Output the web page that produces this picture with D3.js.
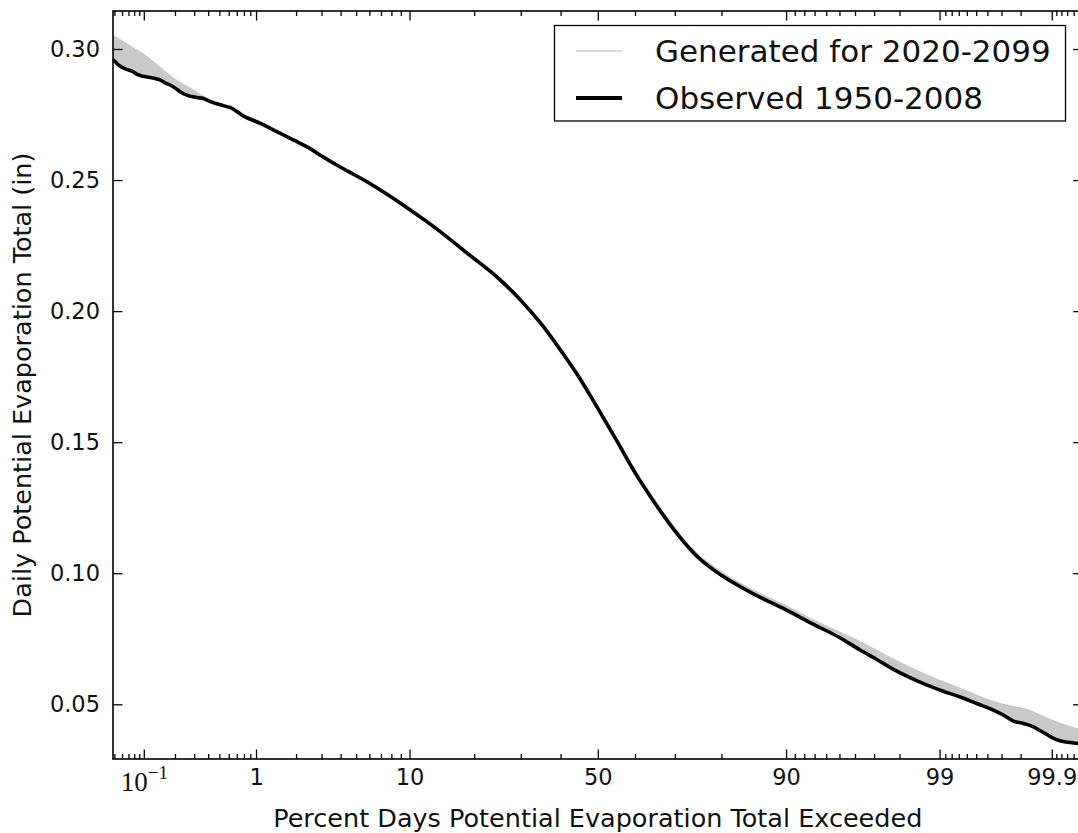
<!DOCTYPE html>
<html>
<head>
<meta charset="utf-8">
<script src="https://cdn.jsdelivr.net/npm/d3@7"></script>
<style>
  html, body { margin: 0; padding: 0; background: #fff; }
  svg { display: block; }
</style>
</head>
<body>
<svg id="chart" width="1078" height="833"></svg>
<script>
// Observed daily PET exceedance curve, 1950-2008 (percent of days exceeded, inches)
const observedPct = [0.0483, 0.0528, 0.0571, 0.0671, 0.0783, 0.0848, 0.0988, 0.124, 0.144, 0.161,
  0.186, 0.207, 0.231, 0.265, 0.317, 0.362, 0.414, 0.474, 0.540, 0.614, 0.698, 0.791, 1.073, 1.44,
  1.91, 2.50, 3, 4, 6, 9, 13, 19, 25, 30, 35, 40, 45, 50, 55, 60, 65, 70, 75, 80, 85, 90, 93, 95,
  96.29, 97.12, 97.79, 98.32, 98.74, 99.066, 99.317, 99.505, 99.645, 99.711, 99.766, 99.812,
  99.849, 99.874, 99.888, 99.904, 99.917, 99.935, 99.95];
const observedPET = [0.2960, 0.2946, 0.2935, 0.2922, 0.2913, 0.2904, 0.2896, 0.2889, 0.2882, 0.2871,
  0.2860, 0.2847, 0.2833, 0.2822, 0.2815, 0.2811, 0.2800, 0.2791, 0.2784, 0.2777, 0.2762, 0.2745, 0.2717, 0.2685,
  0.2653, 0.2621, 0.2592, 0.2549, 0.2488, 0.2411, 0.2326, 0.2216, 0.2124, 0.2041, 0.1951, 0.1851, 0.1746, 0.1629,
  0.1509, 0.1384, 0.1270, 0.1162, 0.1065, 0.0992, 0.0928, 0.0860, 0.0803, 0.0755,
  0.0707, 0.0671, 0.0633, 0.0602, 0.0574, 0.0550, 0.0528, 0.0503, 0.0478, 0.0459, 0.0436, 0.0427,
  0.0414, 0.0396, 0.0385, 0.0370, 0.0361, 0.0354, 0.0349];

// Generated ensemble for 2020-2099: upper and lower envelope of the runs
const generatedPct = [0.048, 0.056, 0.07, 0.083, 0.1, 0.14, 0.2, 0.3, 0.4, 0.6, 0.8, 1, 1.5, 2, 3, 4,
  6, 9, 13, 19, 25, 30, 35, 40, 45, 50, 55, 60, 65, 70, 75, 80, 85, 90, 93, 95, 96.3, 97.8, 98.74,
  99.32, 99.65, 99.75, 99.83, 99.88, 99.917, 99.95];
const generatedUpper = [0.3052, 0.3038, 0.3016, 0.2999, 0.2980, 0.2935, 0.2885, 0.2842, 0.2810, 0.2779,
  0.2747, 0.2726, 0.2689, 0.2650, 0.2597, 0.2555, 0.2495, 0.2418, 0.2333, 0.2224, 0.2132, 0.2050, 0.1961,
  0.1861, 0.1757, 0.1640, 0.1520, 0.1396, 0.1283, 0.1174, 0.1077, 0.1005, 0.0942, 0.0876, 0.0820, 0.0776,
  0.0739, 0.0672, 0.0612, 0.0561, 0.0510, 0.0494, 0.0479, 0.0453, 0.0428, 0.0402];
const generatedLower = [0.2962, 0.2940, 0.2920, 0.2905, 0.2895, 0.2880, 0.2848, 0.2817, 0.2802, 0.2776,
  0.2742, 0.2719, 0.2683, 0.2645, 0.2590, 0.2549, 0.2488, 0.2411, 0.2326, 0.2216, 0.2124, 0.2041, 0.1951,
  0.1851, 0.1746, 0.1629, 0.1509, 0.1384, 0.1270, 0.1162, 0.1065, 0.0992, 0.0928, 0.0860, 0.0803, 0.0755,
  0.0706, 0.0632, 0.0575, 0.0528, 0.0478, 0.0442, 0.0421, 0.0394, 0.0362, 0.0350];

// Axis ticks
const majorTicks = [0.1, 1, 10, 50, 90, 99, 99.9];
const majorTickLabels = ["10^-1", "1", "10", "50", "90", "99", "99.9"];
const minorTicks = [0.05, 0.06, 0.07, 0.08, 0.09,
  0.2, 0.3, 0.4, 0.5, 0.6, 0.7, 0.8, 0.9,
  2, 3, 4, 5, 6, 7, 8, 9,
  20, 30, 40, 60, 70, 80,
  91, 92, 93, 94, 95, 96, 97, 98,
  99.1, 99.2, 99.3, 99.4, 99.5, 99.6, 99.7, 99.8,
  99.91, 99.92, 99.93, 99.94, 99.95];
const yTicks = [0.05, 0.10, 0.15, 0.20, 0.25, 0.30];

const seriesNames = ["Generated for 2020-2099", "Observed 1950-2008"];
const xTitle = "Percent Days Potential Evaporation Total Exceeded";
const yTitle = "Daily Potential Evaporation Total (in)";

// Inverse standard normal CDF (Acklam's rational approximation)
function probit(p) {
  const a = [-3.969683028665376e+01, 2.209460984245205e+02, -2.759285104469687e+02,
             1.383577518672690e+02, -3.066479806614716e+01, 2.506628277459239e+00];
  const b = [-5.447609879822406e+01, 1.615858368580409e+02, -1.556989798598866e+02,
             6.680131188771972e+01, -1.328068155288572e+01];
  const c = [-7.784894002430293e-03, -3.223964580411365e-01, -2.400758277161838e+00,
             -2.549732539343734e+00, 4.374664141464968e+00, 2.938163982698783e+00];
  const d = [7.784695709041462e-03, 3.224671290700398e-01, 2.445134137142996e+00,
             3.754408661907416e+00];
  const pl = 0.02425, ph = 1 - pl;
  let q, r;
  if (p < pl) {
    q = Math.sqrt(-2 * Math.log(p));
    return (((((c[0]*q + c[1])*q + c[2])*q + c[3])*q + c[4])*q + c[5]) /
           ((((d[0]*q + d[1])*q + d[2])*q + d[3])*q + 1);
  }
  if (p <= ph) {
    q = p - 0.5; r = q * q;
    return (((((a[0]*r + a[1])*r + a[2])*r + a[3])*r + a[4])*r + a[5]) * q /
           (((((b[0]*r + b[1])*r + b[2])*r + b[3])*r + b[4])*r + 1);
  }
  q = Math.sqrt(-2 * Math.log(1 - p));
  return -(((((c[0]*q + c[1])*q + c[2])*q + c[3])*q + c[4])*q + c[5]) /
          ((((d[0]*q + d[1])*q + d[2])*q + d[3])*q + 1);
}

const plot = { left: 113, right: 1082.6, top: 11, bottom: 759 };
const sansFont = "'DejaVu Sans', 'Liberation Sans', sans-serif";

// Normal-probability x scale: linear in z = probit(percent / 100)
const zScale = d3.scaleLinear().domain([-3.3, 3.3]).range([plot.left, plot.right]);
const xOf = pct => zScale(probit(pct / 100));
const yScale = d3.scaleLinear().domain([0.02913, 0.3145]).range([plot.bottom, plot.top]);

const svg = d3.select("#chart");

svg.append("defs").append("clipPath").attr("id", "plot-clip")
  .append("rect")
  .attr("x", plot.left).attr("y", plot.top)
  .attr("width", plot.right - plot.left).attr("height", plot.bottom - plot.top);

const plotArea = svg.append("g").attr("clip-path", "url(#plot-clip)");

// Generated ensemble band
const genRows = generatedPct.map((p, i) => ({ p, hi: generatedUpper[i], lo: generatedLower[i] }));
plotArea.append("path")
  .datum(genRows)
  .attr("fill", "#c9c9c9")
  .attr("stroke", "#c4c4c4")
  .attr("stroke-width", 1)
  .attr("d", d3.area()
    .x(d => xOf(d.p))
    .y0(d => yScale(d.lo))
    .y1(d => yScale(d.hi))
    .curve(d3.curveMonotoneX));

// Observed curve
const obsRows = observedPct.map((p, i) => ({ p, v: observedPET[i] }));
plotArea.append("path")
  .datum(obsRows)
  .attr("fill", "none")
  .attr("stroke", "#000")
  .attr("stroke-width", 3.6)
  .attr("stroke-linejoin", "round")
  .attr("d", d3.line()
    .x(d => xOf(d.p))
    .y(d => yScale(d.v))
    .curve(d3.curveMonotoneX));

// Axes (ticks point inward on all four sides)
const majorLen = 9.5, minorLen = 5;
const zMajor = majorTicks.map(p => probit(p / 100));
const zMinor = minorTicks.map(p => probit(p / 100));

function styleAxis(g, fontSize) {
  g.select(".domain").remove();
  g.selectAll(".tick line").attr("stroke", "#000").attr("stroke-width", 1.3);
  g.attr("font-family", sansFont).attr("font-size", fontSize);
  g.selectAll(".tick text").attr("fill", "#111");
}

// bottom
const xBottom = svg.append("g").attr("transform", `translate(0,${plot.bottom})`)
  .call(d3.axisBottom(zScale).tickValues(zMajor).tickSize(-majorLen).tickPadding(10)
    .tickFormat((d, i) => majorTickLabels[i]));
styleAxis(xBottom, 22.5);
svg.append("g").attr("transform", `translate(0,${plot.bottom})`)
  .call(d3.axisBottom(zScale).tickValues(zMinor).tickSize(-minorLen).tickFormat(""))
  .call(g => styleAxis(g, 10));

// power-of-ten label drawn as 10 with a superscript exponent
xBottom.selectAll(".tick text")
  .filter(function () { return d3.select(this).text() === "10^-1"; })
  .each(function () {
    const t = d3.select(this);
    t.text(null)
      .attr("font-family", "'Liberation Serif', 'DejaVu Serif', serif")
      .attr("font-size", 27)
      .attr("dy", "0.8em");
    t.append("tspan").text("10");
    t.append("tspan").text("\u22121").attr("font-size", 19).attr("dy", "-0.6em");
  });

// top
svg.append("g").attr("transform", `translate(0,${plot.top})`)
  .call(d3.axisTop(zScale).tickValues(zMajor).tickSize(-majorLen).tickFormat(""))
  .call(g => styleAxis(g, 10));
svg.append("g").attr("transform", `translate(0,${plot.top})`)
  .call(d3.axisTop(zScale).tickValues(zMinor).tickSize(-minorLen).tickFormat(""))
  .call(g => styleAxis(g, 10));

// left
const yLeft = svg.append("g").attr("transform", `translate(${plot.left},0)`)
  .call(d3.axisLeft(yScale).tickValues(yTicks).tickSize(-majorLen).tickPadding(13)
    .tickFormat(d3.format(".2f")));
styleAxis(yLeft, 22.5);

// right
svg.append("g").attr("transform", `translate(${plot.right},0)`)
  .call(d3.axisRight(yScale).tickValues(yTicks).tickSize(-majorLen).tickFormat(""))
  .call(g => styleAxis(g, 10));

// frame
svg.append("rect")
  .attr("x", plot.left).attr("y", plot.top)
  .attr("width", plot.right - plot.left).attr("height", plot.bottom - plot.top)
  .attr("fill", "none").attr("stroke", "#000").attr("stroke-width", 1.6);

// axis titles
svg.append("text")
  .attr("x", (plot.left + plot.right) / 2).attr("y", 827)
  .attr("text-anchor", "middle")
  .attr("font-family", sansFont).attr("font-size", 25.5).attr("fill", "#111")
  .text(xTitle);

svg.append("text")
  .attr("transform", `translate(31,${(plot.top + plot.bottom) / 2}) rotate(-90)`)
  .attr("text-anchor", "middle")
  .attr("font-family", sansFont).attr("font-size", 25.5).attr("fill", "#111")
  .text(yTitle);

// legend
const legend = svg.append("g");
legend.append("rect")
  .attr("x", 554.5).attr("y", 25.5).attr("width", 511).attr("height", 95.5)
  .attr("fill", "#fff").attr("stroke", "#000").attr("stroke-width", 1.3);
const legendRows = [
  { name: seriesNames[0], color: "#cfcfcf", width: 1.5, y: 51 },
  { name: seriesNames[1], color: "#000", width: 4, y: 98 }
];
legendRows.forEach(r => {
  legend.append("line")
    .attr("x1", 576).attr("x2", 622).attr("y1", r.y).attr("y2", r.y)
    .attr("stroke", r.color).attr("stroke-width", r.width);
  legend.append("text")
    .attr("x", 655).attr("y", r.y + 11.3)
    .attr("font-family", sansFont).attr("font-size", 31).attr("fill", "#111")
    .text(r.name);
});
</script>
</body>
</html>
